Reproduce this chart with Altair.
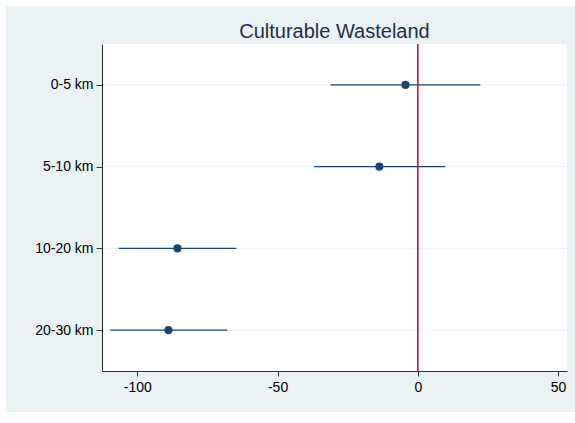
import altair as alt
import pandas as pd

# ---- data ----
categories = ["0-5 km", "5-10 km", "10-20 km", "20-30 km"]
estimates = [-4.4, -13.7, -85.7, -88.9]
ci_low = [-31.1, -37.0, -106.7, -109.7]
ci_high = [22.3, 9.8, -64.7, -68.0]
x_ticks = [-100, -50, 0, 50]
title_text = "Culturable Wasteland"

df = pd.DataFrame({"cat": categories, "est": estimates, "lo": ci_low, "hi": ci_high})
one = pd.DataFrame({"a": [0]})

W, H = 465, 327
NAVY = "#1a476f"
RED = "#c8103a"
BG = "#eaf2f3"
FONT = "Liberation Sans"

xscale = alt.Scale(domain=[-112.6, 53.2], nice=False, zero=False)
yscale = alt.Scale(domain=categories, type="point", padding=0.5)

xaxis = alt.Axis(values=x_ticks, labelExpr="'' + datum.value", title=None, grid=False,
                 tickSize=5, labelPadding=4, labelFontSize=14, labelColor="#000",
                 domainColor="#333", tickColor="#333", labelFont=FONT, zindex=1)
yaxis = alt.Axis(title=None, grid=False, tickSize=6, labelPadding=3, labelFontSize=14,
                 labelColor="#000", domainColor="#222", tickColor="#333", labelFont=FONT,
                 zindex=1)

outer = alt.Chart(one).mark_rect(color=BG).encode(
    x=alt.value(-96), x2=alt.value(473), y=alt.value(-38), y2=alt.value(368))
inner = alt.Chart(one).mark_rect(color="white").encode(
    x=alt.value(0), x2=alt.value(W), y=alt.value(0), y2=alt.value(H))

grid = alt.Chart(df).mark_rule(color=BG, strokeWidth=1).encode(
    y=alt.Y("cat:N", scale=yscale, axis=yaxis, sort=categories))

ci = alt.Chart(df).mark_rule(color=NAVY, strokeWidth=1.4).encode(
    x=alt.X("lo:Q", scale=xscale, axis=xaxis),
    x2="hi:Q",
    y=alt.Y("cat:N", scale=yscale, axis=yaxis, sort=categories))

zero = alt.Chart(one).mark_rule(color=RED, strokeWidth=1.6).encode(
    x=alt.datum(0, scale=xscale))

pts = alt.Chart(df).mark_circle(size=65, color=NAVY, opacity=1).encode(
    x=alt.X("est:Q", scale=xscale, axis=xaxis),
    y=alt.Y("cat:N", scale=yscale, axis=yaxis, sort=categories))

title = alt.Chart(pd.DataFrame({"t": [title_text]})).mark_text(
    font=FONT, fontSize=20, color="#1f2d4f", align="center", baseline="alphabetic"
).encode(text="t:N", x=alt.value(W / 2), y=alt.value(-6))

chart = alt.layer(outer, inner, grid, ci, zero, pts, title).properties(
    width=W, height=H,
    autosize=alt.AutoSizeParams(type="none"),
    padding={"left": 102, "top": 44, "right": 8, "bottom": 52},
).configure_view(stroke=None).configure(background="white")

chart.save("out.html", embed_options={"renderer": "svg", "actions": False})
